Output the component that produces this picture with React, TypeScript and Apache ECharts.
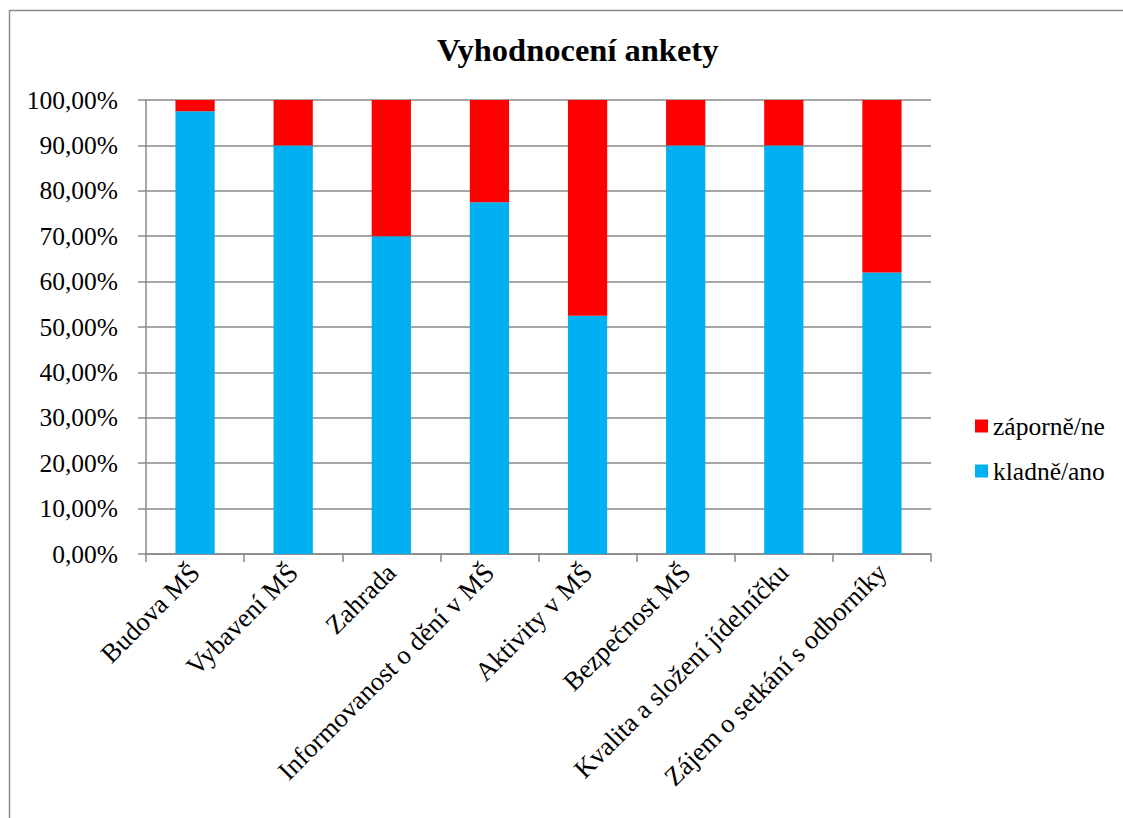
import React, { useEffect, useRef } from "react";
import * as echarts from "echarts";

const categories = [
  "Budova MŠ",
  "Vybavení MŠ",
  "Zahrada",
  "Informovanost o dění v MŠ",
  "Aktivity v MŠ",
  "Bezpečnost MŠ",
  "Kvalita a složení jídelníčku",
  "Zájem o setkání s odborníky",
];
const kladne = [97.5, 90, 70, 77.5, 52.5, 90, 90, 62];
const zaporne = [2.5, 10, 30, 22.5, 47.5, 10, 10, 38];
const seriesNames = ["kladně/ano", "záporně/ne"];

const FONT = "Liberation Serif";

export default function App() {
  const ref = useRef<HTMLDivElement>(null);
  useEffect(() => {
    if (!ref.current) return;
    const chart = echarts.init(ref.current, undefined, { renderer: "svg" });
    chart.setOption({
      animation: false,
      backgroundColor: "#fff",
      textStyle: { fontFamily: FONT },
      title: {
        text: "Vyhodnocení ankety",
        left: 432,
        top: 28,
        textStyle: { fontFamily: FONT, fontWeight: "bold", fontSize: 32.5, color: "#000" },
      },
      graphic: [
        {
          type: "rect",
          shape: { x: 9.5, y: 10.5, width: 1300, height: 1000 },
          style: { fill: "none", stroke: "#8a8a8a", lineWidth: 1.5 },
          silent: true,
        },
      ],
      legend: {
        data: [seriesNames[1], seriesNames[0]],
        orient: "vertical",
        left: 970,
        top: 408,
        itemWidth: 13,
        itemHeight: 13,
        itemGap: 19,
        icon: "rect",
        textStyle: { fontFamily: FONT, fontSize: 25.5, color: "#000", lineHeight: 26 },
      },
      grid: { left: 146, right: 192, top: 100, bottom: 264 },
      xAxis: {
        type: "category",
        data: categories,
        axisLine: { lineStyle: { color: "#888", width: 1.5 } },
        axisTick: { show: true, length: 8, alignWithLabel: false, lineStyle: { color: "#888", width: 1.5 } },
        axisLabel: {
          rotate: 45,
          interval: 0,
          margin: 14,
          fontFamily: FONT,
          fontSize: 26.5,
          color: "#000",
        },
      },
      yAxis: {
        type: "value",
        min: 0,
        max: 100,
        interval: 10,
        axisLine: { show: true, lineStyle: { color: "#888", width: 1.5 } },
        axisTick: { show: true, length: 8, lineStyle: { color: "#888", width: 1.5 } },
        splitLine: { lineStyle: { color: "#888", width: 1.5 } },
        axisLabel: {
          margin: 28,
          fontFamily: FONT,
          fontSize: 25.5,
          color: "#000",
          formatter: (v: number) => v.toFixed(2).replace(".", ",") + "%",
        },
      },
      series: [
        {
          name: seriesNames[0],
          type: "bar",
          stack: "total",
          data: kladne,
          barCategoryGap: "60%",
          itemStyle: { color: "#00B0F0" },
        },
        {
          name: seriesNames[1],
          type: "bar",
          stack: "total",
          data: zaporne,
          barCategoryGap: "60%",
          itemStyle: { color: "#FF0000" },
        },
      ],
    });
    return () => chart.dispose();
  }, []);
  return (
    <div
      ref={ref}
      style={{ position: "fixed", left: 0, top: 0, width: 1123, height: 818, background: "#fff" }}
    />
  );
}
